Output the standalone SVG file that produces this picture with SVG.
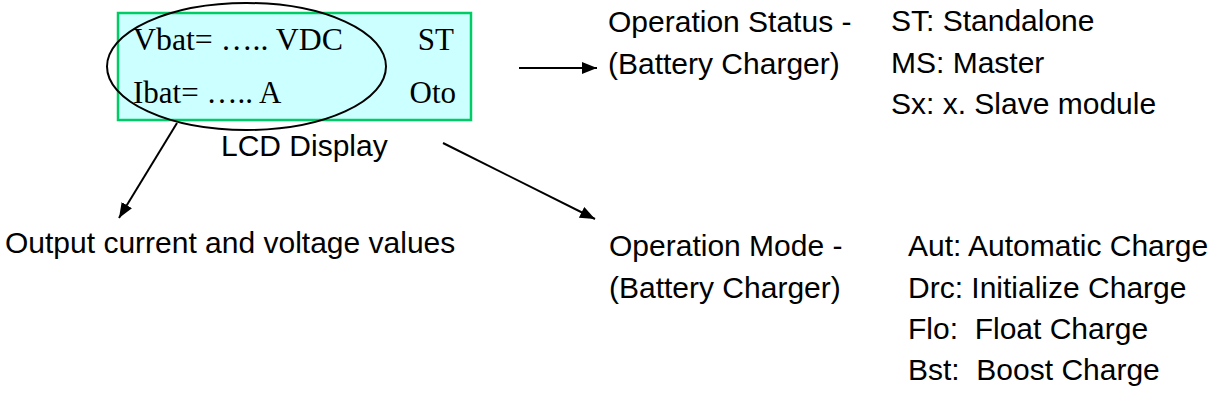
<svg xmlns="http://www.w3.org/2000/svg" width="1226" height="416" viewBox="0 0 1226 416">
<style>
.s{font-family:"Liberation Sans",Arial,sans-serif;font-size:30px;fill:#000;white-space:pre}
.sf{font-family:"Liberation Serif","Times New Roman",serif;font-size:31px;fill:#000}
.c{stroke:#000;stroke-width:2;fill:none;marker-end:url(#ah)}
</style>
<defs>
<marker id="ah" markerUnits="userSpaceOnUse" markerWidth="16" markerHeight="14" refX="15" refY="6" orient="auto">
<path d="M0,0 L15,6 L0,12 z" fill="#000"/>
</marker>
</defs>
<rect width="1226" height="416" fill="#fff"/>
<g id="lcd">
<rect x="118" y="13" width="353" height="107" fill="#ccffff" stroke="#00cc66" stroke-width="2.5"/>
<text class="sf" x="133" y="50" textLength="210" lengthAdjust="spacingAndGlyphs">Vbat= ….. VDC</text>
<text class="sf" x="133" y="103">Ibat= ….. A</text>
<text class="sf" x="454" y="50" text-anchor="end">ST</text>
<text class="sf" x="456" y="103" text-anchor="end">Oto</text>
<ellipse cx="246.5" cy="66.5" rx="139.5" ry="63.5" fill="none" stroke="#000" stroke-width="2"/>
<text class="s" x="221" y="156">LCD Display</text>
</g>
<g id="output">
<text class="s" x="5" y="253">Output current and voltage values</text>
</g>
<g id="status">
<text class="s" x="608" y="32">Operation Status -</text>
<text class="s" x="608" y="74">(Battery Charger)</text>
<text class="s" x="891" y="31">ST: Standalone</text>
<text class="s" x="891" y="73">MS: Master</text>
<text class="s" x="891" y="114">Sx: x. Slave module</text>
</g>
<g id="mode">
<text class="s" x="609" y="256">Operation Mode -</text>
<text class="s" x="609" y="298">(Battery Charger)</text>
<text class="s" x="908" y="256" xml:space="preserve">Aut: Automatic Charge</text>
<text class="s" x="908" y="298" xml:space="preserve">Drc: Initialize Charge</text>
<text class="s" x="908" y="339" xml:space="preserve">Flo:  Float Charge</text>
<text class="s" x="908" y="380" xml:space="preserve">Bst:  Boost Charge</text>
</g>
<g id="connectors">
<line class="c" x1="177" y1="123" x2="119" y2="218"/>
<line class="c" x1="443" y1="143" x2="595" y2="219"/>
<line class="c" x1="519" y1="68" x2="597" y2="68"/>
</g>
</svg>
